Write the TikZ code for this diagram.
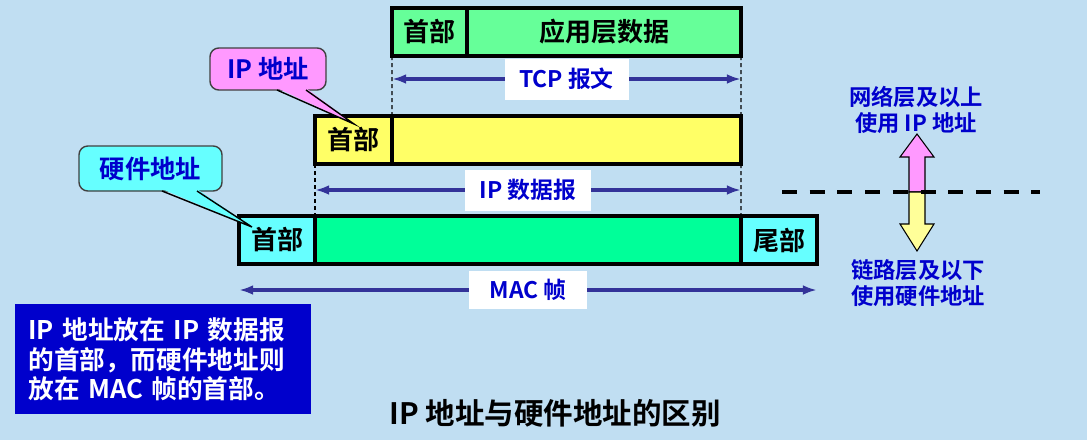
\documentclass[tikz,border=0pt]{standalone}
\usepackage{fontspec}
\setmainfont{Noto Sans CJK SC}[BoldFont={Noto Sans CJK SC Bold}]
\usepackage{tikz}
\usetikzlibrary{calc,arrows.meta,positioning}
\newlength\px
\setlength\px{0.02cm}
\definecolor{bgblue}{RGB}{192,222,242}
\definecolor{tcpgreen}{RGB}{102,255,153}
\definecolor{ipyellow}{RGB}{255,255,102}
\definecolor{maccyan}{RGB}{102,255,255}
\definecolor{macgreen}{RGB}{0,255,153}
\definecolor{callpink}{RGB}{255,153,255}
\definecolor{downyellow}{RGB}{255,255,153}
\definecolor{lblblue}{RGB}{0,0,204}
\definecolor{arrblue}{RGB}{51,51,153}
\definecolor{noteblue}{RGB}{0,0,204}
\tikzset{field/.style={draw,line width=2pt,outer sep=0pt,minimum height=48\px,inner sep=0pt,font=\fontsize{14.8}{17}\selectfont\bfseries}}
\tikzset{span/.style={draw=arrblue,line width=2.3pt,{Latex[length=8pt,width=5.5pt]}-{Latex[length=8pt,width=5.5pt]}}}
\tikzset{spanlabel/.style={fill=white,text=lblblue,inner sep=0pt,minimum height=41\px,font=\fontsize{13}{15}\selectfont\bfseries}}
\tikzset{guide/.style={draw,line width=0.6pt,dash pattern=on 4\px off 3\px}}
\tikzset{callout/.style={draw=black!75,line width=0.8pt,outer sep=0pt,rounded corners=5pt,text=lblblue,inner sep=0pt,font=\fontsize{14.4}{17}\selectfont\bfseries}}
\tikzset{sidetext/.style={text=lblblue,align=center,inner sep=0pt,font=\fontsize{12.7}{14.7}\selectfont\bfseries}}

\begin{document}
\begin{tikzpicture}[x=1\px,y=-1\px]
    		\fill[bgblue] (0,0) rectangle (1087,440);
    		% TCP segment
    		\node[field,fill=tcpgreen,anchor=north west,minimum width=75\px] (tcphdr) at (392,8) {首部};
    		\node[field,fill=tcpgreen,minimum width=274\px,right=0pt of tcphdr] (tcpdata) {应用层数据};
    		% IP datagram
    		\node[field,fill=ipyellow,anchor=north west,minimum width=77\px] (iphdr) at (315,116) {首部};
    		\node[field,fill=ipyellow,minimum width=349\px,right=0pt of iphdr] (ipdata) {};
    		% MAC frame
    		\node[field,fill=maccyan,anchor=north west,minimum width=76\px] (machdr) at (239,216) {首部};
    		\node[field,fill=macgreen,minimum width=426\px,right=0pt of machdr] (macdata) {};
    		\node[field,fill=maccyan,minimum width=76\px,right=0pt of macdata] (mactrl) {尾部};
    		% guides and spans
    		\draw[guide] (tcphdr.south west) -- (iphdr.north east);
    		\draw[guide] (tcpdata.south east) -- (ipdata.north east);
    		\draw[guide] (iphdr.south west) -- (machdr.north east);
    		\draw[guide] (ipdata.south east) -- (macdata.north east);
    		\draw[span] (tcphdr.south west |- 0,79) -- node[spanlabel,minimum width=124\px]{TCP 报文} (tcpdata.south east |- 0,79);
    		\draw[span] (iphdr.south west |- 0,190) -- node[spanlabel,minimum width=126\px]{IP 数据报} (ipdata.south east |- 0,190);
    		\draw[span] (machdr.south west |- 0,290) -- node[spanlabel,minimum width=118\px,minimum height=38\px]{MAC 帧} (mactrl.south east |- 0,290);
    		% callouts
    		\node[callout,fill=callpink,minimum width=116\px,minimum height=42\px] (ipcall) at (268,69) {IP 地址};
    		\coordinate (iptip) at (354,124);
    		\fill[callpink] ($(ipcall.south)+(9,-2)$) -- (iptip) -- ($(ipcall.south)+(38,-2)$) -- cycle;
    		\draw[line width=0.8pt] ($(ipcall.south)+(9,0)$) -- (iptip) -- ($(ipcall.south)+(38,0)$);
    		\node[callout,fill=maccyan,minimum width=143\px,minimum height=45\px] (hwcall) at (150.5,168.5) {硬件地址};
    		\coordinate (hwtip) at (252,227);
    		\fill[maccyan] ($(hwcall.south)+(11.5,-2)$) -- (hwtip) -- ($(hwcall.south)+(46.5,-2)$) -- cycle;
    		\draw[line width=0.8pt] ($(hwcall.south)+(11.5,0)$) -- (hwtip) -- ($(hwcall.south)+(46.5,0)$);
    		% layers on the right
    		\node[sidetext] (nettext) at (916,110) {网络层及以上\\使用 IP 地址};
    		\node[sidetext] (linktext) at (918,283) {链路层及以下\\使用硬件地址};
    		\draw[fill=callpink,line width=0.6pt] (909,192) -- (909,157) -- (900,157) -- (917,134) -- (934,157) -- (925,157) -- (925,192) -- cycle;
    		\draw[fill=downyellow,line width=0.6pt] (909,192) -- (909,224) -- (900,224) -- (917,251) -- (934,224) -- (925,224) -- (925,192) -- cycle;
    		\draw[line width=4\px,dash pattern=on 15\px off 12.7\px] (782,192) -- (1040,192);
    		% note and title
    		\node[fill=noteblue,text=white,anchor=north west,inner xsep=13\px,inner ysep=0pt,text width=270\px,minimum height=110\px,align=left,font=\fontsize{14.6}{17}\selectfont\bfseries] (note) at (15,304) {IP 地址放在 IP 数据报\\的首部，而硬件地址则\\放在 MAC 帧的首部。};
    		\node[font=\fontsize{16.8}{19}\selectfont\bfseries] (title) at (555,413) {IP 地址与硬件地址的区别};
		\end{tikzpicture}
\end{document}
